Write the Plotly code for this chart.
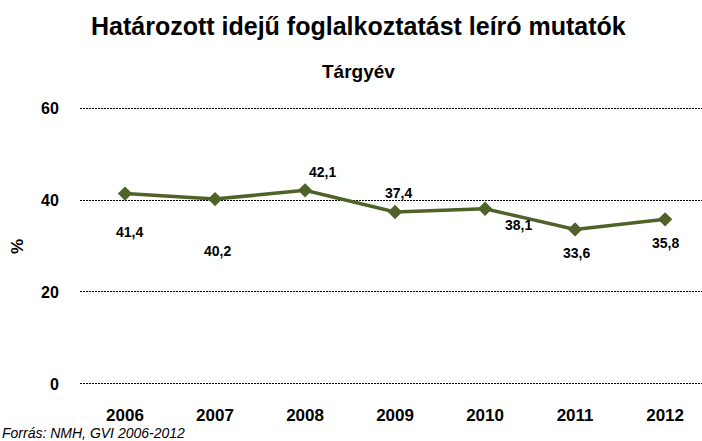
import plotly.graph_objects as go

# Fixed-term employment indicator, share in percent
years = ["2006", "2007", "2008", "2009", "2010", "2011", "2012"]
values = [41.4, 40.2, 42.1, 37.4, 38.1, 33.6, 35.8]
y_ticks = [0, 20, 40, 60]

# pixel offsets of each value label relative to its marker
label_dx = [4, 2, 17, 3, 33, 1, 0]
label_dy = [-38, -52, 18, 19, -16, -24, -24]

FONT = "Liberation Sans, Arial, sans-serif"
LINE_COLOR = "#4F6228"

W, H = 702, 441
L, R, T, B = 80, 0, 106, 55


def px_x(px):
    """Figure pixel column -> paper x (paper spans the plot area)."""
    return (px - L) / (W - L - R)


def px_y(py):
    """Figure pixel row -> paper y."""
    return (H - B - py) / (H - T - B)


fig = go.Figure()
fig.add_trace(go.Scatter(
    x=list(range(len(years))),
    y=values,
    mode="lines+markers",
    line=dict(color=LINE_COLOR, width=3.5),
    marker=dict(symbol="diamond", size=11, color=LINE_COLOR),
    hoverinfo="skip",
    showlegend=False,
))

annotations = []
for i, v in enumerate(values):
    annotations.append(dict(
        x=i, y=v, xref="x", yref="y",
        text="<b>" + f"{v:.1f}".replace(".", ",") + "</b>",
        showarrow=False, xshift=label_dx[i], yshift=label_dy[i],
        font=dict(family=FONT, size=14, color="#000000"),
    ))

annotations += [
    dict(x=px_x(358), y=px_y(26), xref="paper", yref="paper",
         text="<b>Határozott idejű foglalkoztatást leíró mutatók</b>",
         showarrow=False, xanchor="center", yanchor="middle",
         font=dict(family=FONT, size=25, color="#000000")),
    dict(x=px_x(358), y=px_y(71), xref="paper", yref="paper",
         text="<b>Tárgyév</b>",
         showarrow=False, xanchor="center", yanchor="middle",
         font=dict(family=FONT, size=19, color="#000000")),
    dict(x=px_x(17), y=px_y(247), xref="paper", yref="paper",
         text="<b>%</b>", textangle=-90,
         showarrow=False, xanchor="center", yanchor="middle",
         font=dict(family=FONT, size=17, color="#000000")),
    dict(x=px_x(0), y=px_y(433), xref="paper", yref="paper",
         text="<i>Forrás: NMH, GVI 2006-2012</i>",
         showarrow=False, xanchor="left", yanchor="middle",
         font=dict(family=FONT, size=14, color="#000000")),
]

fig.update_layout(
    width=W, height=H,
    margin=dict(l=L, r=R, t=T, b=B),
    paper_bgcolor="white", plot_bgcolor="white",
    annotations=annotations,
    xaxis=dict(
        range=[-0.5, 6.41],
        tickmode="array",
        tickvals=list(range(len(years))),
        ticktext=["<b>" + y + "</b>" for y in years],
        showgrid=False, zeroline=False, showline=False,
        ticks="outside", ticklen=14, tickcolor="rgba(0,0,0,0)",
        tickfont=dict(family=FONT, size=17, color="#000000"),
    ),
    yaxis=dict(
        range=[-0.45, 60.45],
        tickmode="array",
        tickvals=y_ticks,
        ticktext=["<b>" + str(t) + "</b>" for t in y_ticks],
        showgrid=True, gridcolor="#000000", gridwidth=1.2,
        griddash="1.5px,1.5px",
        zeroline=False, showline=False,
        ticks="outside", ticklen=17, tickcolor="rgba(0,0,0,0)",
        tickfont=dict(family=FONT, size=16, color="#000000"),
    ),
)

fig.write_html("out.html")
